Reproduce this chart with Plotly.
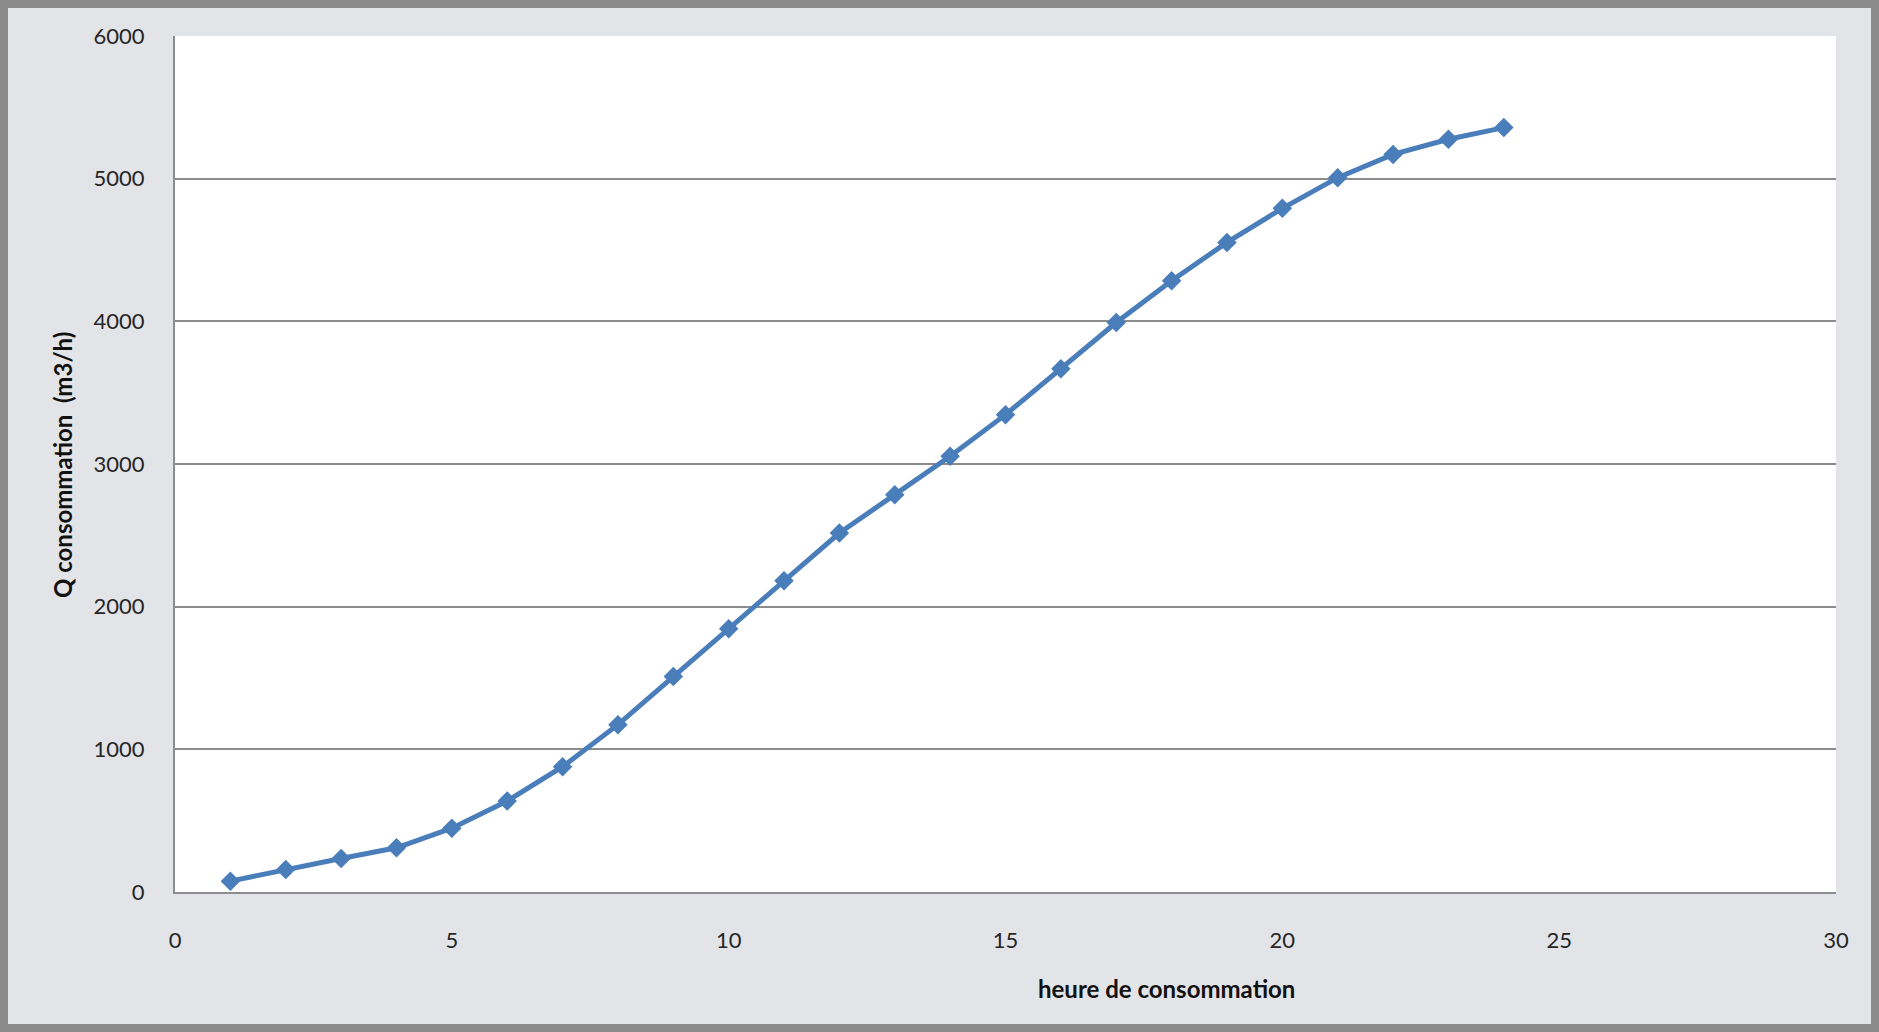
import plotly.graph_objects as go

# Hourly cumulative consumption
heures = list(range(1, 25))
q_consommation = [76, 158, 235, 310, 447, 638, 878, 1173, 1510, 1846, 2182, 2516,
                  2785, 3054, 3346, 3667, 3992, 4285, 4553, 4792, 5007, 5170, 5276, 5358]

x_ticks = [0, 5, 10, 15, 20, 25, 30]
y_ticks = [0, 1000, 2000, 3000, 4000, 5000, 6000]

W, H = 1879, 1032
L, R, T, B = 175, 43, 36, 140

fig = go.Figure()
fig.add_trace(go.Scatter(
    x=heures, y=q_consommation, mode="lines+markers",
    line=dict(color="#4a7ebb", width=5),
    marker=dict(symbol="diamond", size=15, color="#4a7ebb"),
    showlegend=False, hoverinfo="x+y",
))

tick_font = dict(family="Lato, Open Sans, sans-serif", size=22, color="#262626")
title_font = dict(family="Lato, Open Sans, sans-serif", size=24, color="#111111")

fig.update_layout(
    width=W, height=H,
    margin=dict(l=L, r=R, t=T, b=B, pad=0),
    paper_bgcolor="#e3e4e8",
    plot_bgcolor="#ffffff",
    xaxis=dict(
        range=[0, 30], tickvals=x_ticks, showgrid=False, zeroline=False,
        showline=True, linecolor="#8c8c8c", linewidth=2,
        ticks="outside", ticklen=28, tickcolor="rgba(0,0,0,0)",
        tickfont=tick_font,
    ),
    yaxis=dict(
        range=[0, 6000], tickvals=y_ticks, showgrid=True, gridcolor="#8c8c8c",
        gridwidth=2, zeroline=False, showline=True, linecolor="#8c8c8c", linewidth=2,
        ticks="outside", ticklen=24, tickcolor="rgba(0,0,0,0)",
        tickfont=tick_font,
    ),
    annotations=[
        dict(text="<b>heure de consommation</b>", xref="paper", yref="paper",
             x=(1166 - L) / (W - L - R), y=(H - B - 988) / (H - T - B),
             showarrow=False, font=title_font, xanchor="center", yanchor="middle"),
        dict(text="<b>Q consommation  (m3/h)</b>", xref="paper", yref="paper",
             x=(63 - L) / (W - L - R), y=(H - B - 465) / (H - T - B), textangle=-90,
             showarrow=False, font=title_font, xanchor="center", yanchor="middle"),
    ],
    shapes=[
        # outer frame of the chart area
        dict(type="rect", xref="paper", yref="paper",
             x0=-(L - 4) / (W - L - R), x1=1 + (R - 4) / (W - L - R),
             y0=-(B - 4) / (H - T - B), y1=1 + (T - 4) / (H - T - B),
             line=dict(color="#8a8a8a", width=8), layer="below"),
    ],
)

fig.write_html("out.html")
